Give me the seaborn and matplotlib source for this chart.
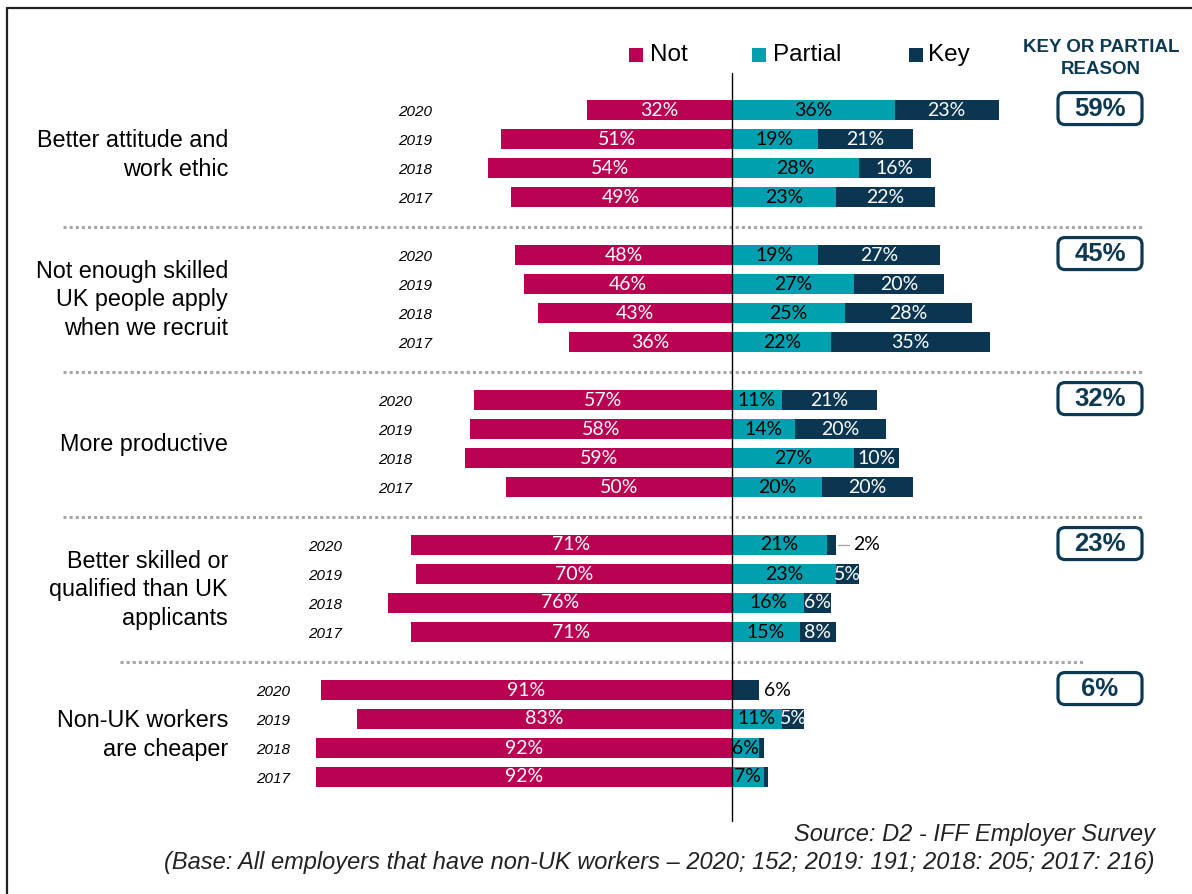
import numpy as np
import pandas as pd
import matplotlib
matplotlib.use('Agg')
import matplotlib.pyplot as plt
import seaborn as sns
from matplotlib.patches import FancyBboxPatch, Rectangle

# data
groups = ['Better attitude and\nwork ethic',
          'Not enough skilled\nUK people apply\nwhen we recruit',
          'More productive',
          'Better skilled or\nqualified than UK\napplicants',
          'Non-UK workers\nare cheaper']
years = ['2020', '2019', '2018', '2017']
not_vals = [[32, 51, 54, 49], [48, 46, 43, 36], [57, 58, 59, 50], [71, 70, 76, 71], [91, 83, 92, 92]]
partial_vals = [[36, 19, 28, 23], [19, 27, 25, 22], [11, 14, 27, 20], [21, 23, 16, 15], [0, 11, 6, 7]]
key_vals = [[23, 21, 16, 22], [27, 20, 28, 35], [21, 20, 10, 20], [2, 5, 6, 8], [6, 5, 1, 1]]
key_or_partial = ['59%', '45%', '32%', '23%', '6%']

NOT_C = '#BA0050'
PART_C = '#00A0B0'
KEY_C = '#0A3651'
NAVY = '#0D3A52'

sns.set_style('white')
plt.rcParams['font.family'] = ['Liberation Sans', 'DejaVu Sans']

# page layout in pixels -> data units (percent on x, rows on y)
W, H = 1192, 894
X0, PXPC = 732, 4.52
Y0, ROW = 110, 29


def dx(px):
    return (px - X0) / PXPC


def dy(py):
    return (py - Y0) / ROW


rows = []
for g in range(len(groups)):
    for i, yr in enumerate(years):
        rows.append({'group': g, 'year': yr, 'row': g * 5 + i,
                     'not': not_vals[g][i], 'partial': partial_vals[g][i],
                     'key': key_vals[g][i]})
df = pd.DataFrame(rows)
df['not_neg'] = -df['not']
df['right_total'] = df['partial'] + df['key']

fig = plt.figure(figsize=(W / 100, H / 100), dpi=100)
ax = fig.add_axes([0, 0, 1, 1])

bar_kw = dict(y='row', orient='h', native_scale=True, width=0.7,
              errorbar=None, saturation=1, linewidth=0, ax=ax)
sns.barplot(data=df, x='not_neg', color=NOT_C, **bar_kw)
sns.barplot(data=df, x='right_total', color=KEY_C, **bar_kw)
sns.barplot(data=df, x='partial', color=PART_C, **bar_kw)

ax.set_xlim(dx(0), dx(W))
ax.set_ylim(dy(H), dy(0))
ax.axis('off')

LAB_FS = 14
lab_font = dict(family=['Lato', 'DejaVu Sans'], fontsize=LAB_FS, ha='center', va='center')
for _, r in df.iterrows():
    y = r['row']
    ax.text(-r['not'] / 2, y, f"{r['not']}%", color='white', **lab_font)
    if r['partial'] > 0:
        ax.text(r['partial'] / 2, y, f"{r['partial']}%", color='black', **lab_font)
    end = r['partial'] + r['key']
    if r['partial'] == 0:
        ax.text(end + 1.1, y, f"{r['key']}%", color='black',
                family=['Lato', 'DejaVu Sans'], fontsize=LAB_FS, ha='left', va='center')
    elif r['key'] >= 5:
        ax.text(r['partial'] + r['key'] / 2, y, f"{r['key']}%", color='white', **lab_font)
    elif r['key'] >= 2:
        ax.plot([end + 0.4, end + 2.9], [y, y], color='#A6A6A6', lw=1)
        ax.text(end + 3.9, y, f"{r['key']}%", color='black',
                family=['Lato', 'DejaVu Sans'], fontsize=LAB_FS, ha='left', va='center')

# year labels and group names
year_right_px = [432, 432, 412, 342, 290]
for g, name in enumerate(groups):
    for i, yr in enumerate(years):
        ax.text(dx(year_right_px[g]), g * 5 + i + 0.07, yr, ha='right', va='center',
                fontsize=11, style='italic', color='black')
    ax.text(dx(228), g * 5 + 1.55, name, ha='right', va='center',
            fontsize=16.8, linespacing=1.3, color='black')
    # summary box
    cy = g * 5 - 0.05
    box = FancyBboxPatch((dx(1058), cy - 16 / ROW), 84 / PXPC, 32 / ROW,
                         boxstyle='round,pad=0,rounding_size=1.6',
                         mutation_aspect=PXPC / ROW,
                         fc='white', ec=NAVY, lw=2.3)
    ax.add_patch(box)
    ax.text(dx(1100), cy, key_or_partial[g], ha='center', va='center',
            fontsize=18.5, fontweight='bold', color=NAVY)

# dotted separators
sep_px = [(63, 1143), (63, 1143), (63, 1143), (120, 1085)]
for g, (x1, x2) in enumerate(sep_px):
    yy = g * 5 + 4.05
    ax.plot([dx(x1), dx(x2)], [yy, yy], color='#A6A6A6', lw=2.2,
            linestyle=(0, (1, 1)), solid_capstyle='butt')

# zero line
ax.plot([0, 0], [dy(73), dy(821)], color='black', lw=1)

# legend
for x_sq, x_txt, lab, col in [(629, 650, 'Not', NOT_C), (752, 773, 'Partial', PART_C),
                              (909, 928, 'Key', KEY_C)]:
    ax.add_patch(Rectangle((dx(x_sq), dy(48)), 14 / PXPC, 14 / ROW, fc=col, ec='none'))
    ax.text(dx(x_txt), dy(55), lab, ha='left', va='center', fontsize=17.5, color='black')

ax.text(dx(1101), dy(47), 'KEY OR PARTIAL', ha='center', va='center',
        fontsize=13.5, fontweight='bold', color=NAVY)
ax.text(dx(1101), dy(69), 'REASON', ha='center', va='center',
        fontsize=13.5, fontweight='bold', color=NAVY)

# source notes
ax.text(dx(1155), dy(835), 'Source: D2 - IFF Employer Survey', ha='right', va='center',
        fontsize=17, style='italic', color='#222222')
ax.text(dx(1155), dy(862),
        '(Base: All employers that have non-UK workers \u2013 2020; 152; 2019: 191; 2018: 205; 2017: 216)',
        ha='right', va='center', fontsize=17, style='italic', color='#222222')

# page frame
ax.plot([dx(7), dx(7)], [dy(8), dy(H)], color='#222222', lw=1.6, clip_on=False)
ax.plot([dx(7), dx(W)], [dy(8), dy(8)], color='#222222', lw=1.6, clip_on=False)

fig.savefig('out.png', dpi=100)
